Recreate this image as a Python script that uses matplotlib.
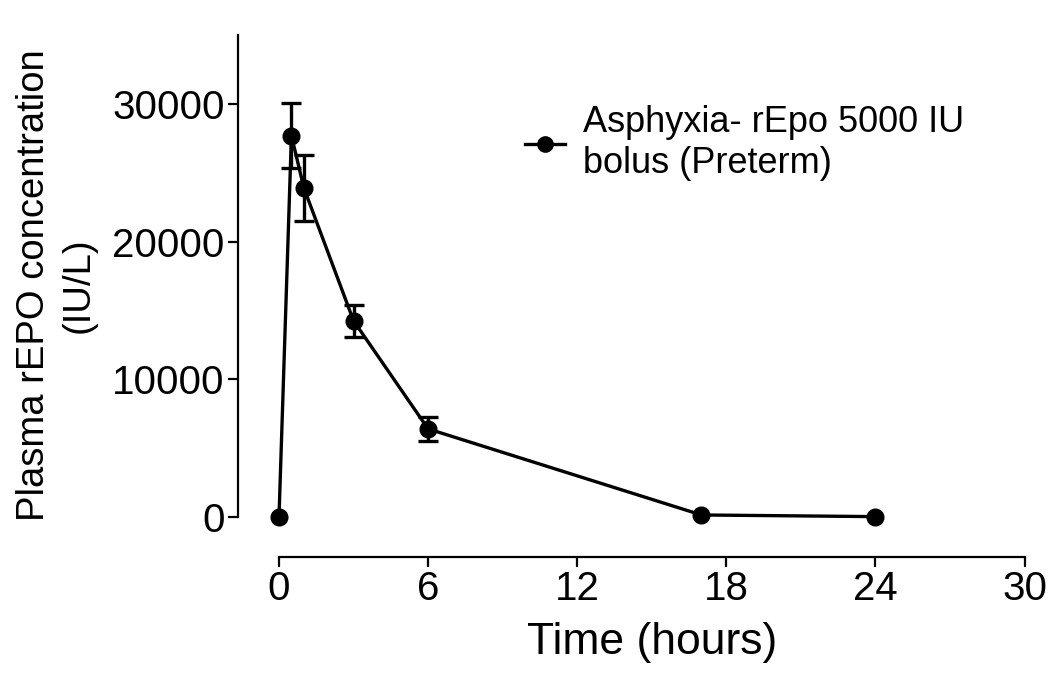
import matplotlib
matplotlib.use('Agg')
import matplotlib.pyplot as plt
import numpy as np
from matplotlib.lines import Line2D

plt.rcParams['font.family'] = ['Liberation Sans', 'DejaVu Sans']

# time points (hours), mean plasma rEPO (IU/L), and SEM (nan = no bar shown)
hours = [0, 0.5, 1, 3, 6, 17, 24]
conc = [0, 27700, 23900, 14250, 6400, 150, 30]
err = [np.nan, 2350, 2400, 1150, 850, np.nan, np.nan]

fig = plt.figure(figsize=(10.54, 6.78), dpi=100)
ax = fig.add_axes([0.2258, 0.1785, 0.7486, 0.7699])

ax.errorbar(hours, conc, yerr=err, color='black', marker='o', markersize=12,
            linewidth=2.4, elinewidth=2.4, capsize=7, capthick=2.4)

ax.set_xlim(-1.65, 30.1)
ax.set_ylim(-2900, 35000)
ax.set_xticks([0, 6, 12, 18, 24, 30])
ax.set_yticks([0, 10000, 20000, 30000])

for s in ['top', 'right']:
    ax.spines[s].set_visible(False)
ax.spines['left'].set_bounds(0, 35000)
ax.spines['bottom'].set_bounds(0, 30)
for s in ['left', 'bottom']:
    ax.spines[s].set_linewidth(1.6)
ax.tick_params(axis='both', direction='out', length=7.5, width=1.6,
               labelsize=29, pad=2)

ax.set_xlabel('Time (hours)', fontsize=32)
ax.xaxis.set_label_coords(0.5244, -0.125, transform=ax.transAxes)
ax.xaxis.label.set_va('top')
ax.set_ylabel('Plasma rEPO concentration\n(IU/L)', fontsize=27.5,
              linespacing=1.3)
ax.yaxis.set_label_coords(-0.179, 0.52, transform=ax.transAxes)

handle = Line2D([], [], color='black', marker='o', markersize=11, linewidth=2.4)
ax.legend([handle], ['Asphyxia- rEpo 5000 IU\nbolus (Preterm)'],
          loc='upper left', bbox_to_anchor=(0.341, 0.90), frameon=False,
          fontsize=26, handlelength=1.1, handletextpad=0.5, borderpad=0,
          labelspacing=0)

fig.savefig('out.png', dpi=100)
